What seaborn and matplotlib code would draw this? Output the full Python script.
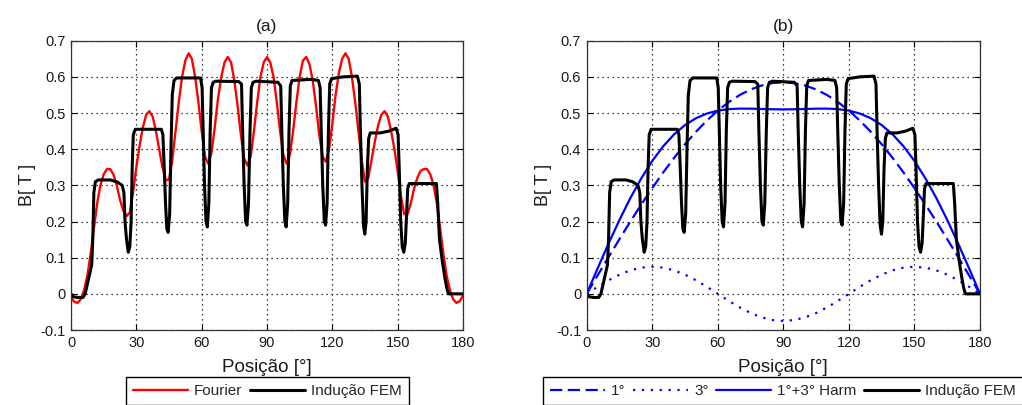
import matplotlib
matplotlib.use("Agg")
import matplotlib.pyplot as plt
import seaborn as sns
import pandas as pd

# ---------------- data ----------------
fem_pos = [0, 1, 3, 5.5, 6.5, 8, 9.5, 10, 10.5, 11.2, 12.5, 18, 21, 23.5, 24.3, 24.8, 25.5, 26.3, 27, 27.6,
           28.1, 28.6, 29.5, 41.5, 42.2, 42.8, 43.4, 44, 44.6, 45.3, 45.9, 46.5, 47.3, 48.5, 59.5, 60.2,
           60.7, 61.3, 62, 62.6, 63.3, 63.9, 64.5, 65.3, 66.5, 77, 78.3, 78.8, 79.5, 80.2, 80.8, 81.5,
           82.2, 82.8, 83.6, 85, 95, 96.3, 96.8, 97.5, 98.2, 98.8, 99.5, 100.1, 100.7, 101.5, 110, 113.6,
           114.4, 114.9, 115.6, 116.3, 116.9, 117.6, 118.2, 118.8, 119.6, 125, 131.5, 132.4, 132.9, 133.6,
           134.3, 134.9, 135.5, 136.1, 136.7, 137.4, 142, 146, 149.3, 150.2, 150.7, 151.4, 152.1, 152.8,
           153.5, 154.1, 154.6, 155.3, 167.8, 168.4, 169.2, 170.5, 171.8, 172.6, 173.3, 180]
fem_b = [0.0, -0.008, -0.01, -0.01, 0.0, 0.04, 0.08, 0.15, 0.28, 0.31, 0.315, 0.315, 0.31, 0.3, 0.28, 0.2,
         0.15, 0.115, 0.13, 0.2, 0.35, 0.44, 0.455, 0.455, 0.44, 0.35, 0.25, 0.18, 0.17, 0.22, 0.4, 0.55,
         0.59, 0.597, 0.597, 0.57, 0.45, 0.3, 0.2, 0.185, 0.25, 0.45, 0.57, 0.585, 0.588, 0.587, 0.58,
         0.45, 0.3, 0.2, 0.19, 0.25, 0.45, 0.57, 0.585, 0.588, 0.585, 0.575, 0.45, 0.3, 0.2, 0.185, 0.25,
         0.45, 0.575, 0.59, 0.593, 0.59, 0.57, 0.45, 0.3, 0.2, 0.19, 0.25, 0.45, 0.58, 0.595, 0.6, 0.602,
         0.58, 0.45, 0.3, 0.19, 0.165, 0.2, 0.35, 0.43, 0.445, 0.445, 0.45, 0.458, 0.44, 0.35, 0.2, 0.13,
         0.115, 0.14, 0.22, 0.29, 0.305, 0.305, 0.25, 0.15, 0.09, 0.04, 0.015, 0.0, 0.0]

fourier_pos = [0, 1.5, 3, 4.5, 6, 7.5, 9, 10.5, 12, 13.5, 15, 16.5, 18, 19.5, 21, 22.5, 24, 25.5, 27, 28.5,
               30, 31.5, 33, 34.5, 36, 37.5, 39, 40.5, 42, 43.5, 45, 46.5, 48, 49.5, 51, 52.5, 54, 55.5,
               57, 58.5, 60, 61.5, 63, 64.5, 66, 67.5, 69, 70.5, 72, 73.5, 75, 76.5, 78, 79.5, 81, 82.5,
               84, 85.5, 87, 88.5, 90, 91.5, 93, 94.5, 96, 97.5, 99, 100.5, 102, 103.5, 105, 106.5, 108,
               109.5, 111, 112.5, 114, 115.5, 117, 118.5, 120, 121.5, 123, 124.5, 126, 127.5, 129, 130.5,
               132, 133.5, 135, 136.5, 138, 139.5, 141, 142.5, 144, 145.5, 147, 148.5, 150, 151.5, 153,
               154.5, 156, 157.5, 159, 160.5, 162, 163.5, 165, 166.5, 168, 169.5, 171, 172.5, 174, 175.5,
               177, 178.5, 180]
fourier_b = [-0.01, -0.022, -0.025, -0.015, 0.01, 0.05, 0.11, 0.18, 0.25, 0.3, 0.33, 0.345, 0.345, 0.33,
             0.3, 0.26, 0.23, 0.215, 0.225, 0.28, 0.35, 0.41, 0.46, 0.495, 0.505, 0.49, 0.45, 0.4, 0.35,
             0.315, 0.315, 0.37, 0.45, 0.53, 0.6, 0.645, 0.665, 0.65, 0.6, 0.53, 0.45, 0.38, 0.36, 0.39,
             0.46, 0.54, 0.6, 0.64, 0.655, 0.64, 0.59, 0.52, 0.44, 0.375, 0.355, 0.38, 0.45, 0.53, 0.6,
             0.64, 0.655, 0.64, 0.6, 0.53, 0.45, 0.385, 0.36, 0.385, 0.45, 0.53, 0.6, 0.645, 0.655, 0.635,
             0.59, 0.52, 0.44, 0.38, 0.365, 0.4, 0.47, 0.55, 0.61, 0.65, 0.665, 0.65, 0.6, 0.53, 0.45,
             0.37, 0.31, 0.32, 0.37, 0.42, 0.465, 0.495, 0.505, 0.49, 0.45, 0.4, 0.34, 0.27, 0.22, 0.22,
             0.25, 0.29, 0.32, 0.34, 0.345, 0.345, 0.33, 0.3, 0.25, 0.18, 0.11, 0.05, 0.01, -0.015,
             -0.025, -0.02, -0.005]

harm_pos = [0, 5, 10, 15, 20, 25, 30, 35, 40, 45, 50, 55, 60, 65, 70, 75, 80, 85, 90,
            95, 100, 105, 110, 115, 120, 125, 130, 135, 140, 145, 150, 155, 160, 165, 170, 175, 180]
harm1_b = [0, 0.051, 0.1016, 0.1514, 0.2001, 0.2472, 0.2925, 0.3356, 0.376, 0.4137, 0.4481, 0.4792,
           0.5066, 0.5302, 0.5497, 0.5651, 0.5761, 0.5828, 0.585, 0.5828, 0.5761, 0.5651, 0.5497, 0.5302,
           0.5066, 0.4792, 0.4481, 0.4137, 0.376, 0.3356, 0.2925, 0.2472, 0.2001, 0.1514, 0.1016, 0.051, 0]
harm3_b = [0, 0.0194, 0.0375, 0.053, 0.065, 0.0724, 0.075, 0.0724, 0.065, 0.053, 0.0375, 0.0194, 0,
           -0.0194, -0.0375, -0.053, -0.065, -0.0724, -0.075, -0.0724, -0.065, -0.053, -0.0375, -0.0194,
           0, 0.0194, 0.0375, 0.053, 0.065, 0.0724, 0.075, 0.0724, 0.065, 0.053, 0.0375, 0.0194, 0]
harm13_b = [0, 0.0704, 0.1391, 0.2044, 0.2651, 0.3196, 0.3675, 0.408, 0.441, 0.4667, 0.4856, 0.4986,
            0.5066, 0.5108, 0.5122, 0.5121, 0.5111, 0.5104, 0.51, 0.5104, 0.5111, 0.5121, 0.5122, 0.5108,
            0.5066, 0.4986, 0.4856, 0.4667, 0.441, 0.408, 0.3675, 0.3196, 0.2651, 0.2044, 0.1391, 0.0704, 0]

x_ticks = [0, 30, 60, 90, 120, 150, 180]
y_ticks = [-0.1, 0, 0.1, 0.2, 0.3, 0.4, 0.5, 0.6, 0.7]
y_tick_labels = ["-0.1", "0", "0.1", "0.2", "0.3", "0.4", "0.5", "0.6", "0.7"]
titles = ["(a)", "(b)"]
labels_a = ["Fourier", "Indução FEM"]
labels_b = ["1°", "3°", "1°+3° Harm", "Indução FEM"]

# ---------------- style ----------------
sns.set_theme(style="white")
plt.rcParams["font.family"] = ["Liberation Sans", "DejaVu Sans"]

W, H = 1022, 405
fig = plt.figure(figsize=(W / 100, H / 100), dpi=100)
ax1 = fig.add_axes([71 / W, 1 - 330 / H, 392 / W, 289.3 / H])
ax2 = fig.add_axes([586.7 / W, 1 - 330 / H, 393.3 / W, 289.3 / H])

fem_df = pd.DataFrame({"pos": fem_pos, "B": fem_b})
fou_df = pd.DataFrame({"pos": fourier_pos, "B": fourier_b})
harm_df = pd.DataFrame({"pos": harm_pos, "h1": harm1_b, "h3": harm3_b, "h13": harm13_b})

BLUE = "#0000ff"
# (a)
sns.lineplot(data=fou_df, x="pos", y="B", ax=ax1, color="#ff0000", linewidth=1.7,
             sort=False, estimator=None)
sns.lineplot(data=fem_df, x="pos", y="B", ax=ax1, color="black", linewidth=2.2,
             sort=False, estimator=None)
# (b)
sns.lineplot(data=harm_df, x="pos", y="h1", ax=ax2, color=BLUE, linewidth=1.6,
             sort=False, estimator=None)
ax2.lines[-1].set_linestyle((0, (5.5, 2.5)))
sns.lineplot(data=harm_df, x="pos", y="h3", ax=ax2, color=BLUE, linewidth=1.6,
             sort=False, estimator=None)
ax2.lines[-1].set_linestyle((0, (1, 3)))
sns.lineplot(data=harm_df, x="pos", y="h13", ax=ax2, color=BLUE, linewidth=1.6,
             sort=False, estimator=None)
sns.lineplot(data=fem_df, x="pos", y="B", ax=ax2, color="black", linewidth=2.2,
             sort=False, estimator=None)

for ax, t in zip([ax1, ax2], titles):
    ax.set_xlim(0, 180)
    ax.set_ylim(-0.1, 0.7)
    ax.set_xticks(x_ticks)
    ax.set_xticklabels([str(v) for v in x_ticks])
    ax.set_yticks(y_ticks)
    ax.set_yticklabels(y_tick_labels)
    ax.grid(True, color="black", linestyle=(0, (1, 3)), linewidth=0.9)
    ax.tick_params(direction="in", length=4, width=0.8, top=True, right=True,
                   bottom=True, left=True, labelsize=10.5, pad=4, colors="black",
                   labelcolor="#1a1a1a")
    for s in ax.spines.values():
        s.set_visible(True)
        s.set_color("#333333")
        s.set_linewidth(0.9)
    ax.set_xlabel("Posição [°]", fontsize=13.5, labelpad=7, color="#1a1a1a")
    ax.set_ylabel("B[ T ]", fontsize=13, labelpad=3, color="#1a1a1a")
    ax.set_title(t, fontsize=12.5, pad=7, color="#1a1a1a")

leg_kw = dict(loc="upper center", frameon=True, fancybox=False, shadow=False,
              fontsize=11, handlelength=3.6, handletextpad=0.4, columnspacing=0.5,
              borderpad=0.45, borderaxespad=0)
leg1 = ax1.legend(ax1.lines[:2], labels_a, ncol=2,
                  bbox_to_anchor=(267.5 / W, 1 - 377 / H), bbox_transform=fig.transFigure, **leg_kw)
leg2 = ax2.legend(ax2.lines[:4], labels_b, ncol=4,
                  bbox_to_anchor=(783 / W, 1 - 377 / H), bbox_transform=fig.transFigure, **leg_kw)
for leg in (leg1, leg2):
    fr = leg.get_frame()
    fr.set_edgecolor("black")
    fr.set_linewidth(1.0)
    fr.set_facecolor("white")
    fr.set_alpha(1)

fig.savefig("out.png", dpi=100, facecolor="white")
